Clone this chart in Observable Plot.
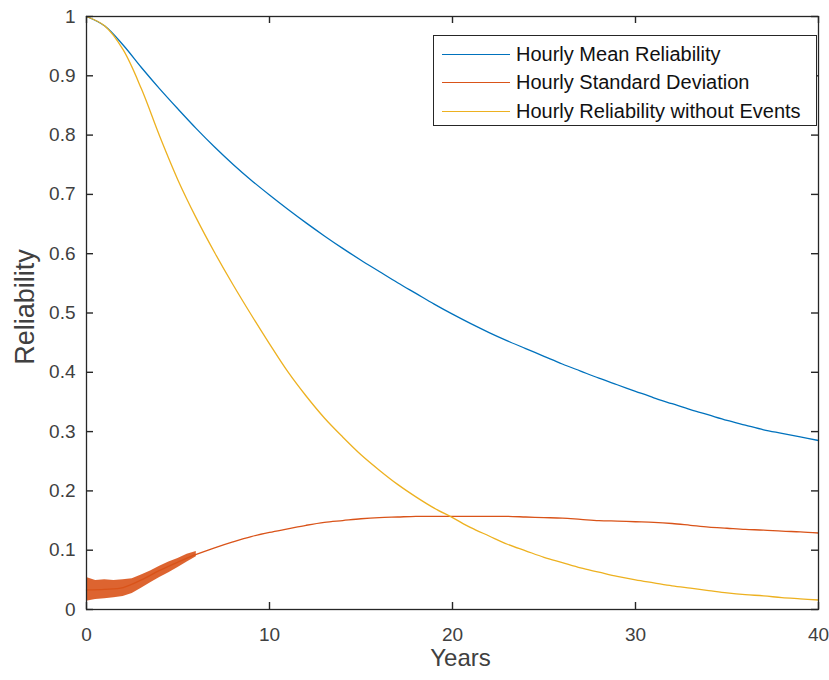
<!DOCTYPE html>
<html>
<head>
<meta charset="utf-8">
<script src="https://cdn.jsdelivr.net/npm/d3@7"></script>
<script src="https://cdn.jsdelivr.net/npm/@observablehq/plot@0.6"></script>
<style>
  html, body { margin: 0; padding: 0; background: #fff; }
  #wrap { position: relative; width: 829px; height: 680px; font-family: "Liberation Sans", Arial, sans-serif; }
  #legend { position: absolute; left: 433px; top: 35px; width: 382px; height: 89px; border: 1px solid #262626; background: #fff; }
  .row { position: absolute; left: 0; height: 28px; display: flex; align-items: center; font-size: 20px; color: #111; white-space: nowrap; }
  .sw { width: 68px; height: 0; border-top: 1.3px solid; margin-left: 8px; margin-right: 6px; }
</style>
</head>
<body>
<div id="wrap"></div>
<script>
const years = [0,1,2,3,4,5,6,7,8,9,10,11,12,13,14,15,16,17,18,19,20,21,22,23,24,25,26,27,28,29,30,31,32,33,34,35,36,37,38,39,40];
const meanReliability = [1.0,0.984,0.952,0.914,0.878,0.844,0.811,0.78,0.751,0.724,0.699,0.675,0.652,0.63,0.609,0.589,0.57,0.551,0.533,0.515,0.498,0.482,0.467,0.453,0.44,0.427,0.414,0.402,0.39,0.379,0.368,0.357,0.347,0.337,0.328,0.319,0.311,0.303,0.297,0.291,0.285];
const stdDeviation = [0.033,0.034,0.037,0.05,0.066,0.08,0.093,0.104,0.114,0.123,0.13,0.136,0.142,0.147,0.15,0.153,0.155,0.156,0.157,0.157,0.157,0.157,0.157,0.157,0.156,0.155,0.154,0.152,0.15,0.149,0.148,0.147,0.145,0.142,0.139,0.137,0.135,0.134,0.132,0.131,0.129];
const noEvents = [1.0,0.984,0.944,0.878,0.798,0.724,0.66,0.602,0.548,0.497,0.448,0.401,0.36,0.323,0.291,0.261,0.235,0.211,0.19,0.171,0.155,0.138,0.124,0.11,0.099,0.088,0.079,0.07,0.063,0.056,0.05,0.045,0.04,0.036,0.032,0.028,0.025,0.023,0.02,0.018,0.016];
// noisy envelope of the hourly standard deviation in the first years
const bandYears = [0,0.5,1,1.5,2,2.5,3,3.5,4,4.5,5,5.5,6];
const bandLow  = [0.014,0.017,0.018,0.02,0.022,0.027,0.036,0.045,0.054,0.062,0.071,0.08,0.089];
const bandHigh = [0.054,0.049,0.05,0.049,0.05,0.052,0.058,0.065,0.073,0.08,0.086,0.093,0.098];
const xTicks = [0,10,20,30,40];
const yTicks = [0,0.1,0.2,0.3,0.4,0.5,0.6,0.7,0.8,0.9,1];
const yTickLabels = ["0","0.1","0.2","0.3","0.4","0.5","0.6","0.7","0.8","0.9","1"];
const seriesNames = ["Hourly Mean Reliability","Hourly Standard Deviation","Hourly Reliability without Events"];
const seriesColors = ["#0072BD","#D95319","#EDB120"];

const W = 829, H = 680, mL = 86, mR = 11, mT = 16, mB = 71;
const pw = W - mL - mR, ph = H - mT - mB;
const tick = 7;
const axisColor = "#262626";
const labelColor = "#404040";

const rows = (vals) => years.map((t, i) => ({t, v: vals[i]}));
const band = bandYears.map((t, i) => ({t, lo: bandLow[i], hi: bandHigh[i]}));

const chart = Plot.plot({
  width: W, height: H,
  marginLeft: mL, marginRight: mR, marginTop: mT, marginBottom: mB,
  style: {fontFamily: "'Liberation Sans', Arial, sans-serif", background: "#fff"},
  x: {domain: [0, 40]},
  y: {domain: [0, 1]},
  marks: [
    Plot.areaY(band, {x: "t", y1: "lo", y2: "hi", fill: seriesColors[1], fillOpacity: 0.9, curve: "linear"}),
    Plot.line(rows(meanReliability), {x: "t", y: "v", stroke: seriesColors[0], strokeWidth: 1.3, curve: "catmull-rom"}),
    Plot.line(rows(stdDeviation), {x: "t", y: "v", stroke: seriesColors[1], strokeWidth: 1.3, curve: "catmull-rom"}),
    Plot.line(rows(noEvents), {x: "t", y: "v", stroke: seriesColors[2], strokeWidth: 1.3, curve: "catmull-rom"}),
    Plot.frame({stroke: axisColor, strokeWidth: 1.3}),
    // inward ticks on all four sides
    Plot.tickX(xTicks, {x: d => d, stroke: axisColor, strokeWidth: 1.4, insetTop: ph - tick}),
    Plot.tickX(xTicks, {x: d => d, stroke: axisColor, strokeWidth: 1.4, insetBottom: ph - tick}),
    Plot.tickY(yTicks, {y: d => d, stroke: axisColor, strokeWidth: 1.4, insetRight: pw - tick}),
    Plot.tickY(yTicks, {y: d => d, stroke: axisColor, strokeWidth: 1.4, insetLeft: pw - tick}),
    Plot.axisX({ticks: xTicks, tickSize: 0, tickPadding: 18, fontSize: 19, color: labelColor, tickFormat: d => String(d), label: null}),
    Plot.axisY({ticks: yTicks, tickSize: 0, tickPadding: 11, fontSize: 19, color: labelColor, tickFormat: (d, i) => yTickLabels[i], label: null}),
    Plot.text(["Years"], {frameAnchor: "bottom", dx: 8, dy: 56, fontSize: 24, fill: labelColor}),
    Plot.text(["Reliability"], {frameAnchor: "left", textAnchor: "middle", dx: -61, dy: -6, rotate: -90, fontSize: 27, fill: labelColor})
  ]
});

const wrap = document.getElementById("wrap");
wrap.appendChild(chart);
const legend = document.createElement("div");
legend.id = "legend";
seriesNames.forEach((name, i) => {
  const r = document.createElement("div");
  r.className = "row";
  r.style.top = (4 + i * 28.5) + "px";
  const sw = document.createElement("span");
  sw.className = "sw";
  sw.style.borderTopColor = seriesColors[i];
  const t = document.createElement("span");
  t.textContent = name;
  r.appendChild(sw); r.appendChild(t);
  legend.appendChild(r);
});
wrap.appendChild(legend);
</script>
</body>
</html>
